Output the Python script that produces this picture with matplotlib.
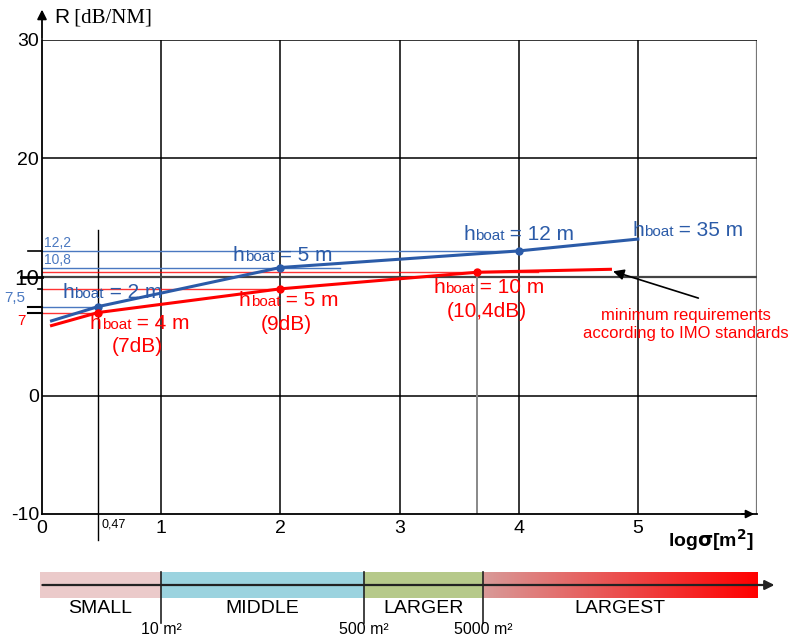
import numpy as np
import matplotlib
import matplotlib.pyplot as plt
from matplotlib.colors import LinearSegmentedColormap
from matplotlib.offsetbox import TextArea, HPacker, AnnotationBbox

plt.rcParams['font.family'] = ['Liberation Sans', 'DejaVu Sans']

# dane
blue_x = [0.08, 0.47, 2, 4, 5]
blue_R = [6.3, 7.5, 10.8, 12.2, 13.2]
red_x = [0.08, 0.47, 2, 3.65, 4.77]
red_R = [5.9, 7.0, 9.0, 10.4, 10.65]
blue_pts_x = [0.47, 2, 4]
blue_pts_R = [7.5, 10.8, 12.2]
red_pts_x = [0.47, 2, 3.65]
red_pts_R = [7.0, 9.0, 10.4]

blue_labels = ["= 2 m", "= 5 m", "= 12 m", "= 35 m"]
blue_label_x = [0.59, 2.02, 4.0, 5.42]
blue_label_y = [8.7, 11.8, 13.6, 13.95]
red_labels = ["= 4 m", "= 5 m", "= 10 m"]
red_db = ["(7dB)", "(9dB)", "(10,4dB)"]
red_label_x = [0.82, 2.07, 3.75]
red_label_y = [6.1, 8.0, 9.1]

classes = ["SMALL", "MIDDLE", "LARGER", "LARGEST"]
class_edges = [-0.02, 1.0, 2.7, 3.7, 6.0]
class_colors = ['#ebcaca', '#9bd3df', '#b6c98a']
edge_labels = ["10 m²", "500 m²", "5000 m²"]

BLUE = '#2b5ba8'
BLUE_THIN = '#4a78c0'
RED = '#ff0000'

fig = plt.figure(figsize=(7.92, 6.37), dpi=100)
ax = fig.add_axes([42/792, 1 - 514/637, 715/792, 474/637])
ax.set_xlim(0, 6)
ax.set_ylim(-10, 30)
for s in ['top', 'right']:
    ax.spines[s].set_visible(False)
ax.spines['left'].set_linewidth(1.3)
ax.spines['bottom'].set_linewidth(1.3)

# siatka
for xv in [1, 2, 3, 4, 5]:
    ax.axvline(xv, color='black', lw=1.1, zorder=1)
ax.axvline(6, color='#777777', lw=1.6, zorder=1)
for yv in [0, 20, 30]:
    ax.axhline(yv, color='black', lw=1.1, zorder=1)
ax.axhline(10, color='#444444', lw=1.6, zorder=1)
ax.plot([0.47, 0.47], [-12.2, 14.0], color='black', lw=1, clip_on=False, zorder=1)
ax.plot([3.65, 3.65], [-10, 10.4], color='#888888', lw=1.4, zorder=1)

# linie pomocnicze
ax.plot([0, 4], [12.2, 12.2], color=BLUE_THIN, lw=1, zorder=2)
ax.plot([0, 2.5], [10.8, 10.8], color=BLUE_THIN, lw=1, zorder=2)
ax.plot([0, 0.47], [7.5, 7.5], color=BLUE_THIN, lw=1, zorder=2)
ax.plot([0, 4.16], [10.4, 10.4], color=RED, lw=1, alpha=0.8, zorder=2)
ax.plot([0, 2], [9.0, 9.0], color=RED, lw=1, alpha=0.8, zorder=2)
ax.plot([0, 0.47], [7.0, 7.0], color=RED, lw=1, alpha=0.8, zorder=2)

# znaczniki na osi Y
yt = ax.get_yaxis_transform()
ax.plot([-0.02, 0], [12.2, 12.2], color='black', lw=1.2, transform=yt, clip_on=False)
ax.plot([-0.03, 0], [10, 10], color='black', lw=2, transform=yt, clip_on=False)
ax.plot([-0.02, 0], [7.5, 7.5], color='black', lw=1.5, transform=yt, clip_on=False)
ax.plot([-0.02, 0], [7.0, 7.0], color='black', lw=1.5, transform=yt, clip_on=False)
ax.plot([-0.006, 0], [9.0, 9.0], color='black', lw=1.2, transform=yt, clip_on=False)

# serie
ax.plot(blue_x, blue_R, color=BLUE, lw=2.2, zorder=4)
ax.plot(red_x, red_R, color=RED, lw=2.2, zorder=4)
ax.plot(blue_pts_x, blue_pts_R, 'o', color=BLUE, ms=5, zorder=5)
ax.plot(red_pts_x, red_pts_R, 'o', color=RED, ms=5, zorder=5)


def hlabel(x, y, rest, color):
    parts = [TextArea('h', textprops=dict(color=color, size=15)),
             TextArea('boat', textprops=dict(color=color, size=11)),
             TextArea(' ' + rest, textprops=dict(color=color, size=15))]
    box = HPacker(children=parts, align='baseline', pad=0, sep=0)
    ab = AnnotationBbox(box, (x, y), frameon=False, box_alignment=(0.5, 0.5), pad=0, zorder=6)
    ax.add_artist(ab)


for i in range(len(blue_labels)):
    hlabel(blue_label_x[i], blue_label_y[i], blue_labels[i], BLUE)
for i in range(len(red_labels)):
    hlabel(red_label_x[i], red_label_y[i], red_labels[i], RED)
    ax.text(red_label_x[i] - 0.02, red_label_y[i] - 2.0, red_db[i], color=RED,
            fontsize=15, ha='center', va='center')

ax.text(5.4, 6.0, "minimum requirements\naccording to IMO standards", color=RED,
        fontsize=12, ha='center', va='center', linespacing=1.2)
ax.annotate('', xy=(4.77, 10.55), xytext=(5.53, 8.15),
            arrowprops=dict(arrowstyle='-|>', color='black', lw=1.2, mutation_scale=16))

# opisy osi
ax.set_xticks([])
ax.set_yticks([-10, 0, 10, 20, 30])
ax.set_yticklabels(['-10', '0', '10', '20', '30'])
ax.tick_params(axis='y', length=0, pad=2, labelsize=14)
ax.get_yticklabels()[2].set_fontsize(16)
for xv in [0, 1, 2, 3, 4, 5]:
    ax.text(xv, -10.5, str(xv), ha='center', va='top', fontsize=14)
ax.text(0.5, -10.4, '0,47', ha='left', va='top', fontsize=9)
ax.text(5.25, -12.2, r'log$\mathbf{\sigma}$[m$^\mathbf{2}$]', fontsize=14, fontweight='bold',
        ha='left', va='center')

ax.text(0.02, 12.25, '12,2', color=BLUE_THIN, fontsize=10, ha='left', va='bottom')
ax.text(0.02, 10.85, '10,8', color=BLUE_THIN, fontsize=10, ha='left', va='bottom')
ax.text(-0.14, 7.6, '7,5', color=BLUE_THIN, fontsize=11, ha='right', va='bottom', clip_on=False)
ax.text(-0.14, 6.9, '7', color=RED, fontsize=11, ha='right', va='top', clip_on=False)

# strzalki osi
ax.annotate('', xy=(0, 32.8), xytext=(0, 29.9), annotation_clip=False,
            arrowprops=dict(arrowstyle='-|>', color='black', lw=1.3, mutation_scale=14))
ax.annotate('', xy=(6.0, -10), xytext=(5.85, -10), annotation_clip=False,
            arrowprops=dict(arrowstyle='-|>', color='black', lw=1.3, mutation_scale=12))

rt = TextArea('R', textprops=dict(size=15))
ut = TextArea(' [dB/NM]', textprops=dict(size=15, family='Liberation Serif'))
rbox = HPacker(children=[rt, ut], align='baseline', pad=0, sep=0)
fig.add_artist(AnnotationBbox(rbox, (54/792, 1 - 18/637), xycoords='figure fraction',
                              frameon=False, box_alignment=(0, 0.5), pad=0))

# pasek klas
bx = fig.add_axes([42/792, 1 - 598/637, 715/792, 26/637])
bx.set_xlim(0, 6)
bx.set_ylim(0, 1)
bx.axis('off')
for i in range(3):
    bx.fill_between([class_edges[i], class_edges[i + 1]], 0, 1, color=class_colors[i],
                    lw=0, clip_on=False)
grad = np.linspace(0, 1, 256).reshape(1, -1)
cmap = LinearSegmentedColormap.from_list('g', ['#d89a98', '#ff0000'])
bx.imshow(grad, cmap=cmap, aspect='auto', extent=[class_edges[3], class_edges[4], 0, 1],
          clip_on=False)
bx.set_xlim(0, 6)
bx.set_ylim(0, 1)
bx.annotate('', xy=(6.17, 0.5), xytext=(-0.02, 0.5), annotation_clip=False,
            arrowprops=dict(arrowstyle='-|>', color='#222222', lw=1.6, mutation_scale=14))
for i, e in enumerate(class_edges[1:4]):
    bx.plot([e, e], [1, -0.95], color='#222222', lw=1.2, clip_on=False)
    bx.text(e, -1.2, edge_labels[i], ha='center', va='center', fontsize=11.5)
for i, c in enumerate(classes):
    mid = (class_edges[i] + class_edges[i + 1]) / 2
    bx.text(mid, -0.4, c, ha='center', va='center', fontsize=14)

fig.savefig('out.png', dpi=100)
